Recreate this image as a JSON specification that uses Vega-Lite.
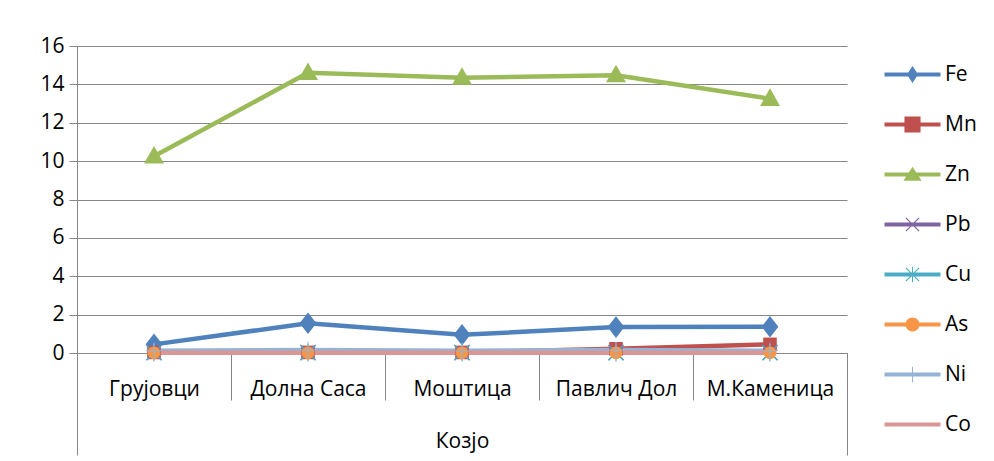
{
  "$schema": "https://vega.github.io/schema/vega-lite/v6.json",
  "width": 770,
  "height": 307,
  "padding": {"left": 39, "top": 35, "right": 5, "bottom": 5},
  "background": "white",
  "config": {
    "view": {"stroke": null},
    "font": "Open Sans",
    "axis": {"labelFont": "Open Sans", "labelColor": "#000000", "labelFontSize": 21, "tickColor": "#868686", "domainColor": "#868686", "gridColor": "#868686"}
  },
  "data": {
    "values": [
      {"site": "Грујовци", "el": "Fe", "value": 0.45, "grp": "Козјо"},
      {"site": "Долна Саса", "el": "Fe", "value": 1.55, "grp": "Козјо"},
      {"site": "Моштица", "el": "Fe", "value": 0.95, "grp": "Козјо"},
      {"site": "Павлич Дол", "el": "Fe", "value": 1.35, "grp": "Козјо"},
      {"site": "М.Каменица", "el": "Fe", "value": 1.37, "grp": "Козјо"},
      {"site": "Грујовци", "el": "Mn", "value": 0.03, "grp": "Козјо"},
      {"site": "Долна Саса", "el": "Mn", "value": 0.03, "grp": "Козјо"},
      {"site": "Моштица", "el": "Mn", "value": 0.03, "grp": "Козјо"},
      {"site": "Павлич Дол", "el": "Mn", "value": 0.22, "grp": "Козјо"},
      {"site": "М.Каменица", "el": "Mn", "value": 0.45, "grp": "Козјо"},
      {"site": "Грујовци", "el": "Zn", "value": 10.25, "grp": "Козјо"},
      {"site": "Долна Саса", "el": "Zn", "value": 14.6, "grp": "Козјо"},
      {"site": "Моштица", "el": "Zn", "value": 14.35, "grp": "Козјо"},
      {"site": "Павлич Дол", "el": "Zn", "value": 14.48, "grp": "Козјо"},
      {"site": "М.Каменица", "el": "Zn", "value": 13.25, "grp": "Козјо"},
      {"site": "Грујовци", "el": "Pb", "value": 0.02, "grp": "Козјо"},
      {"site": "Долна Саса", "el": "Pb", "value": 0.02, "grp": "Козјо"},
      {"site": "Моштица", "el": "Pb", "value": 0.02, "grp": "Козјо"},
      {"site": "Павлич Дол", "el": "Pb", "value": 0.02, "grp": "Козјо"},
      {"site": "М.Каменица", "el": "Pb", "value": 0.02, "grp": "Козјо"},
      {"site": "Грујовци", "el": "Cu", "value": 0.01, "grp": "Козјо"},
      {"site": "Долна Саса", "el": "Cu", "value": 0.01, "grp": "Козјо"},
      {"site": "Моштица", "el": "Cu", "value": 0.01, "grp": "Козјо"},
      {"site": "Павлич Дол", "el": "Cu", "value": 0.01, "grp": "Козјо"},
      {"site": "М.Каменица", "el": "Cu", "value": 0.01, "grp": "Козјо"},
      {"site": "Грујовци", "el": "As", "value": 0.01, "grp": "Козјо"},
      {"site": "Долна Саса", "el": "As", "value": 0.01, "grp": "Козјо"},
      {"site": "Моштица", "el": "As", "value": 0.01, "grp": "Козјо"},
      {"site": "Павлич Дол", "el": "As", "value": 0.01, "grp": "Козјо"},
      {"site": "М.Каменица", "el": "As", "value": 0.01, "grp": "Козјо"},
      {"site": "Грујовци", "el": "Ni", "value": 0.12, "grp": "Козјо"},
      {"site": "Долна Саса", "el": "Ni", "value": 0.15, "grp": "Козјо"},
      {"site": "Моштица", "el": "Ni", "value": 0.12, "grp": "Козјо"},
      {"site": "Павлич Дол", "el": "Ni", "value": 0.15, "grp": "Козјо"},
      {"site": "М.Каменица", "el": "Ni", "value": 0.12, "grp": "Козјо"},
      {"site": "Грујовци", "el": "Co", "value": 0.01, "grp": "Козјо"},
      {"site": "Долна Саса", "el": "Co", "value": 0.01, "grp": "Козјо"},
      {"site": "Моштица", "el": "Co", "value": 0.01, "grp": "Козјо"},
      {"site": "Павлич Дол", "el": "Co", "value": 0.01, "grp": "Козјо"},
      {"site": "М.Каменица", "el": "Co", "value": 0.01, "grp": "Козјо"}
    ]
  },
  "encoding": {
    "y": {
      "field": "value", "type": "quantitative",
      "scale": {"domain": [0, 16], "nice": false},
      "axis": {"title": null, "values": [0, 2, 4, 6, 8, 10, 12, 14, 16], "tickSize": 8, "labelPadding": 5, "grid": true, "labelOverlap": false}
    },
    "color": {
      "field": "el", "type": "nominal",
      "scale": {"domain": ["Fe", "Mn", "Zn", "Pb", "Cu", "As", "Ni", "Co"], "range": ["#4F81BD", "#C0504D", "#9BBB59", "#8064A2", "#4BACC6", "#F79646", "#95B3D7", "#D99694"]},
      "legend": {
        "title": null, "orient": "right", "offset": 37, "padding": 18, "rowPadding": 28,
        "labelFontSize": 21, "labelFont": "Open Sans", "labelColor": "#000000", "labelOffset": 22,
        "symbolSize": 196, "symbolStrokeWidth": 0, "symbolOpacity": 1,
        "encode": {
          "symbols": {
            "update": {
              "shape": {"signal": "datum.value === 'Fe' ? 'M-4,-0.3H4V0.3H-4Z M0,-1.2L0.8,0L0,1.2L-0.8,0Z' : datum.value === 'Mn' ? 'M-4,-0.3H4V0.3H-4Z M-1.15,-1.15H1.15V1.15H-1.15Z' : datum.value === 'Zn' ? 'M-4,-0.3H4V0.3H-4Z M0,-1.1L1.3,0.9H-1.3Z' : datum.value === 'Pb' ? 'M-4,-0.3H4V0.3H-4Z M-1,-0.88L-0.88,-1L1,0.88L0.88,1Z M0.88,-1L1,-0.88L-0.88,1L-1,0.88Z' : datum.value === 'Cu' ? 'M-4,-0.3H4V0.3H-4Z M-1,-0.88L-0.88,-1L1,0.88L0.88,1Z M0.88,-1L1,-0.88L-0.88,1L-1,0.88Z M-0.07,-1.1H0.07V1.1H-0.07Z' : datum.value === 'As' ? 'M-4,-0.3H4V0.3H-4Z M0,-1A1,1 0 1,1 0,1A1,1 0 1,1 0,-1Z' : datum.value === 'Ni' ? 'M-4,-0.3H4V0.3H-4Z M-0.07,-1.1H0.07V1.1H-0.07Z' : 'M-4,-0.3H4V0.3H-4Z'"},
              "fill": {"scale": "color", "field": "value"},
              "stroke": {"value": "transparent"},
              "strokeWidth": {"value": 0},
              "opacity": {"value": 1},
              "size": {"value": 196}
            }
          }
        }
      }
    }
  },
  "layer": [
    {
      "encoding": {
        "x": {
          "field": "site", "type": "nominal",
          "sort": ["Грујовци", "Долна Саса", "Моштица", "Павлич Дол", "М.Каменица"],
          "scale": {"type": "band", "paddingInner": 0, "paddingOuter": 0},
          "axis": {"orient": "bottom", "title": null, "labelAngle": 0, "tickBand": "extent", "tickSize": 47, "labelPadding": -22, "grid": false}
        }
      },
      "layer": [
        {"mark": {"type": "line", "strokeWidth": 4.5}},
        {
          "transform": [{"filter": "datum.el != 'Co'"}],
          "mark": {"type": "point", "filled": true, "opacity": 1, "size": 256, "strokeWidth": 0},
          "encoding": {
            "shape": {
              "field": "el", "type": "nominal", "legend": null,
              "scale": {
                "domain": ["Fe", "Mn", "Zn", "Pb", "Cu", "As", "Ni"],
                "range": [
                  "M0,-1.35L1.05,0L0,1.35L-1.05,0Z",
                  "M-0.85,-0.85H0.85V0.85H-0.85Z",
                  "M0,-1.3L1.25,0.9H-1.25Z",
                  "M-1,-0.88L-0.88,-1L1,0.88L0.88,1Z M0.88,-1L1,-0.88L-0.88,1L-1,0.88Z",
                  "M-1,-0.88L-0.88,-1L1,0.88L0.88,1Z M0.88,-1L1,-0.88L-0.88,1L-1,0.88Z M-0.07,-1.1H0.07V1.1H-0.07Z",
                  "M0,-0.8A0.8,0.8 0 1,1 0,0.8A0.8,0.8 0 1,1 0,-0.8Z",
                  "M-0.07,-1H0.07V1H-0.07Z M-1,-0.07H1V0.07H-1Z"
                ]
              }
            }
          }
        }
      ]
    },
    {
      "mark": {"type": "point", "filled": true, "opacity": 0},
      "encoding": {
        "x": {
          "field": "grp", "type": "nominal",
          "scale": {"type": "band", "paddingInner": 0, "paddingOuter": 0},
          "axis": {"orient": "bottom", "title": null, "labelAngle": 0, "tickBand": "extent", "tickSize": 102, "labelPadding": -25, "domain": false, "grid": false}
        }
      }
    }
  ],
  "resolve": {"scale": {"x": "independent"}}
}
